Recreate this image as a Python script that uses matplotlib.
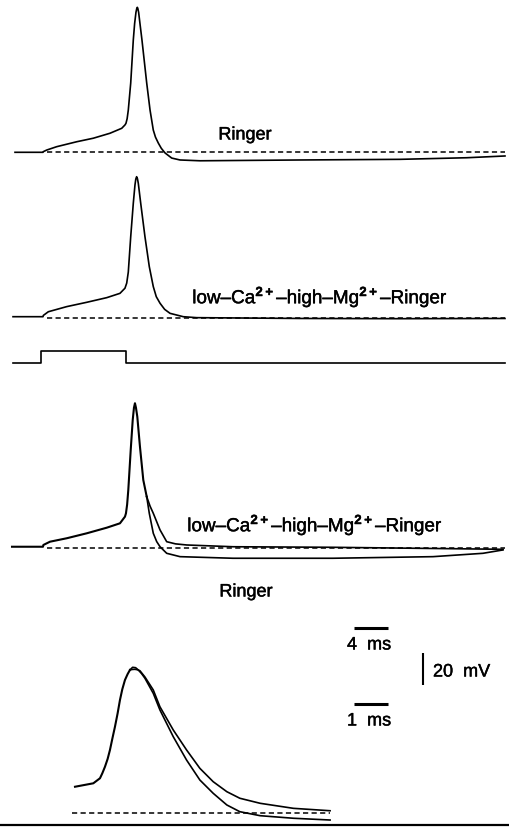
import matplotlib
matplotlib.use("Agg")
import matplotlib.pyplot as plt
import matplotlib.patheffects as pe

plt.rcParams['font.family'] = ['Liberation Sans', 'DejaVu Sans']
plt.rcParams['mathtext.fontset'] = 'custom'
plt.rcParams['mathtext.rm'] = 'Liberation Sans'
plt.rcParams['mathtext.bf'] = 'Liberation Sans:bold'

# ---------------- data (time in ms from stimulus onset, voltage in mV from rest) ----
# Panel 1: Ringer
ringer_t = [-3.36, 0, 0.04, 0.44, 1.64, 4.05, 6.04, 8.04, 9.45, 9.84, 9.96, 10.1, 10.24,
            10.53, 10.84, 11.0, 11.16, 11.26, 11.32, 11.38, 11.48, 11.64, 11.88, 12.45,
            12.85, 13.24, 13.5, 13.84, 14.2, 14.65, 15.45, 16.45, 18.85, 30.85, 42.86,
            50.86, 55.46]
ringer_v = [0, 0, 0.4, 1.4, 3.5, 6.6, 8.8, 11.9, 15.0, 17.1, 18.1, 21.0, 26.4,
            43.3, 70.2, 80.5, 87.5, 90.0, 90.6, 90.0, 87.5, 80.5, 70.2, 43.3,
            26.4, 13.9, 9.5, 5.8, 2.5, -0.4, -3.6, -4.8, -5.3, -4.8, -4.4,
            -3.4, -2.3]

# Panel 2: low-Ca2+-high-Mg2+-Ringer
lowca_t = [-3.6, 0, 0.04, 0.64, 2.85, 5.25, 7.65, 9.24, 9.84, 10.05, 10.24, 10.53, 10.84,
           11.04, 11.14, 11.24, 11.34, 11.44, 11.73, 12.24, 12.76, 13.24, 13.6, 14.05,
           14.6, 15.25, 16.84, 18.45, 30.85, 42.86, 55.46]
lowca_v = [1.0, 1.0, 1.8, 4.1, 7.3, 10.0, 12.9, 15.6, 18.8, 22.0, 28.9, 51.0, 71.9,
           83.3, 87.0, 88.5, 87.2, 84.4, 71.9, 51.0, 32.3, 19.8, 13.5, 9.4,
           5.6, 3.1, 1.0, 0.4, -0.1, -0.25, -0.1]

# Stimulus pulse (relative level)
stim_t = [-3.6, -0.28, -0.28, 9.93, 9.93, 55.46]
stim_level = [0, 0, 1, 1, 0, 0]

# Panel 3: superimposed
sup_common_t = [-3.72, 0, 0.04, 0.84, 2.85, 5.25, 7.65, 9.24, 9.84, 9.96, 10.1, 10.24,
                10.53, 10.77, 10.92, 11.04, 11.16, 11.32, 11.64, 12.04, 12.45]
sup_common_v = [0.6, 0.6, 1.7, 3.75, 5.9, 9.0, 12.5, 15.25, 19.4, 21.5, 27.0, 36.1,
                61.1, 79.8, 87.5, 90.3, 87.5, 81.9, 63.1, 42.3, 31.9]
sup_ringer_t = [12.45, 12.76, 13.24, 13.65, 14.05, 14.85, 16.45, 22.81, 34.81, 46.82,
                52.82, 55.22]
sup_ringer_v = [31.9, 21.5, 9.0, 3.8, 0.6, -3.5, -5.6, -6.6, -6.6, -5.6,
                -3.5, -1.4]
sup_lowca_t = [12.45, 12.85, 13.24, 14.05, 14.85, 15.9, 17.25, 22.81, 34.81, 55.22]
sup_lowca_v = [31.9, 26.0, 21.5, 11.1, 3.75, 2.4, 1.7, 0.6, 0.25, -1.0]

# Panel 4: expanded time scale
exp_common_t = [0, 0.55, 0.75, 0.82, 0.9, 0.98, 1.05, 1.12, 1.2, 1.28, 1.35, 1.42, 1.5,
                1.58, 1.65]
exp_common_v = [16.6, 18.75, 21.9, 25.0, 29.1, 34.0, 39.6, 46.5, 54.1, 62.5, 70.8, 77.5,
                83.3, 87.0, 89.6]
exp_ringer_t = [1.65, 1.73, 1.82, 1.9, 2.0, 2.1, 2.35, 2.55, 2.95, 3.35, 3.75, 4.15,
                4.56, 4.95, 5.56, 6.56, 7.66]
exp_ringer_v = [89.6, 91.25, 91.0, 89.6, 87.3, 84.4, 75.0, 64.6, 47.9, 33.3, 20.8, 12.5,
                5.2, 1.0, -1.5, -3.1, -4.2]
exp_lowca_t = [1.65, 1.72, 1.8, 1.88, 1.95, 2.1, 2.35, 2.55, 2.95, 3.35, 3.75, 4.15,
               4.56, 4.95, 5.56, 6.56, 7.66]
exp_lowca_v = [89.6, 89.9, 90.0, 89.7, 89.1, 85.2, 77.1, 66.6, 52.1, 39.6, 28.1, 19.75,
               13.5, 9.4, 6.25, 3.1, 1.6]

labels = ["Ringer", "low\u2013Ca$^{\\mathbf{2+}}$\u2013high\u2013Mg$^{\\mathbf{2+}}$\u2013Ringer"]
scale_labels = ["4  ms", "20  mV", "1  ms"]

# ---------------- layout ----------------
W, H = 509, 827
fig = plt.figure(figsize=(W / 100, H / 100), dpi=100)
PX_MS_SLOW = 8.33
PX_MS_FAST = 33.3
PX_MV = 1.6

ax = fig.add_axes([0, 0, 1, 1])
ax.set_xlim(-43 / PX_MS_SLOW, (W - 43) / PX_MS_SLOW)
ax.set_ylim(0, H / PX_MV)
ax.axis('off')

ax2 = fig.add_axes([0, 0, 1, 1])
ax2.set_xlim(-75 / PX_MS_FAST, (W - 75) / PX_MS_FAST)
ax2.set_ylim(0, H / PX_MV)
ax2.axis('off')
ax2.patch.set_alpha(0)

def off(ypx):
    return (H - ypx) / PX_MV

o1, o2, os_, o3, o4 = off(152.3), off(318.3), off(362.7), off(547.7), off(813.3)
lw = 1.2
dash = dict(color='black', lw=1.1, linestyle=(0, (3.4, 2.2)))
kw = dict(color='black', lw=lw, solid_joinstyle='round')

# Panel 1
ax.plot([0.44, 55.46], [o1, o1], **dash)
ax.plot(ringer_t, [v + o1 for v in ringer_v], **kw)
# Panel 2
ax.plot([0.44, 55.46], [o2, o2], **dash)
ax.plot(lowca_t, [v + o2 for v in lowca_v], **kw)
# Stimulus
ax.plot(stim_t, [s * 7.3 + os_ for s in stim_level], color='black', lw=lw)
# Panel 3
ax.plot([0.44, 55.46], [o3, o3], **dash)
ax.plot(sup_common_t, [v + o3 for v in sup_common_v], color='black', lw=lw + 0.3,
        solid_joinstyle='round')
ax.plot(sup_ringer_t, [v + o3 for v in sup_ringer_v], **kw)
ax.plot(sup_lowca_t, [v + o3 for v in sup_lowca_v], **kw)
# Panel 4
ax2.plot([-0.1, 7.66], [o4, o4], **dash)
ax2.plot(exp_common_t, [v + o4 for v in exp_common_v], color='black', lw=lw + 0.3,
         solid_joinstyle='round')
ax2.plot(exp_ringer_t, [v + o4 for v in exp_ringer_v], **kw)
ax2.plot(exp_lowca_t, [v + o4 for v in exp_lowca_v], **kw)

# bottom rule
ax.plot([ax.get_xlim()[0], ax.get_xlim()[1]], [off(825), off(825)], color='black', lw=1.6)

# Scale bars
ax.plot([(354.3 - 43) / PX_MS_SLOW, (354.3 - 43) / PX_MS_SLOW + 4], [off(627.7)] * 2,
        color='black', lw=2.2, solid_capstyle='butt')
ax.plot([(423.3 - 43) / PX_MS_SLOW] * 2, [off(685), off(685) + 20], color='black', lw=1.5,
        solid_capstyle='butt')
ax2.plot([(354.3 - 75) / PX_MS_FAST, (354.3 - 75) / PX_MS_FAST + 1], [off(704.3)] * 2,
         color='black', lw=2.2, solid_capstyle='butt')

stroke = [pe.withStroke(linewidth=0.3, foreground='black')]

def ftext(x, y, s, size=13, **kw):
    fig.text(x / W, 1 - y / H, s, fontsize=size, va='center', path_effects=stroke, **kw)

ftext(245, 135, labels[0], ha='center')
ftext(320, 297, labels[1], size=13.6, ha='center')
ftext(315, 525, labels[1], size=13.6, ha='center')
ftext(246, 592, labels[0], ha='center')
ftext(369, 645, scale_labels[0], ha='center')
ftext(433, 672, scale_labels[1], ha='left')
ftext(369, 721, scale_labels[2], ha='center')

fig.savefig("out.png", dpi=100, facecolor='white')
